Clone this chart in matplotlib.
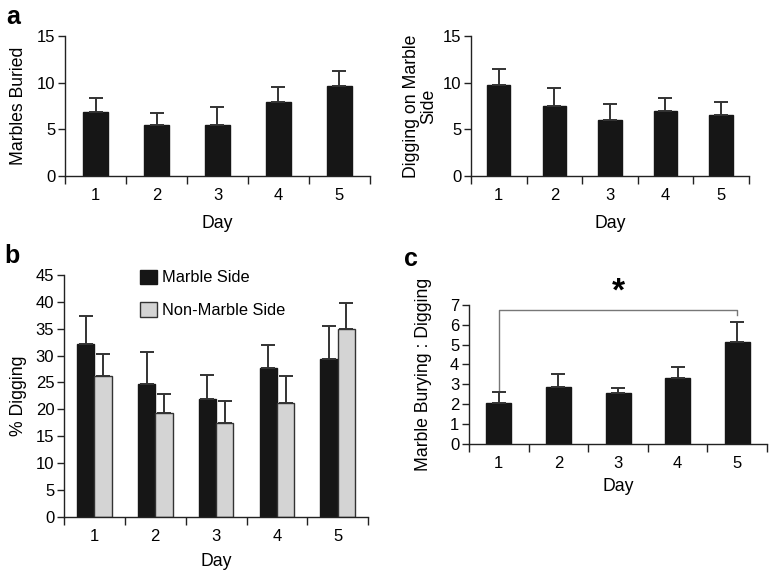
import matplotlib
matplotlib.use("Agg")
import matplotlib.pyplot as plt
import numpy as np

plt.rcParams['font.family'] = ['Liberation Sans', 'DejaVu Sans']

days = [1, 2, 3, 4, 5]
day_labels = ['1', '2', '3', '4', '5']

marbles_buried = [6.8, 5.45, 5.5, 7.9, 9.6]
marbles_buried_err = [1.6, 1.3, 1.9, 1.6, 1.65]

digging_marble = [9.75, 7.5, 6.0, 7.0, 6.5]
digging_marble_err = [1.75, 1.9, 1.7, 1.3, 1.4]

pct_marble_side = [32.2, 24.75, 21.9, 27.7, 29.3]
pct_marble_side_err = [5.2, 5.85, 4.5, 4.2, 6.2]
pct_nonmarble_side = [26.2, 19.25, 17.4, 21.1, 35.0]
pct_nonmarble_side_err = [4.1, 3.55, 4.1, 5.1, 4.7]

ratio = [2.06, 2.87, 2.55, 3.3, 5.15]
ratio_err = [0.54, 0.63, 0.29, 0.56, 0.99]

BLACK = '#161616'
GRAY = '#d4d4d4'
AX = '#222222'
TS = 12
LS = 12.7

fig = plt.figure(figsize=(7.74, 5.75), dpi=100)

def style(ax, ylim, yticks, ylabel, xpad, ypad):
    ax.set_xlim(0.5, 5.5)
    ax.set_ylim(*ylim)
    ax.set_yticks(yticks)
    ax.set_xticks(days)
    ax.set_xticklabels(day_labels)
    ax.set_xticks(np.arange(0.5, 6.0, 1.0), minor=True)
    ax.tick_params(axis='x', which='major', length=0, pad=9, labelsize=TS)
    ax.tick_params(axis='x', which='minor', length=6, width=1.0, color=AX, direction='out')
    ax.tick_params(axis='y', length=5, width=1.0, color=AX, labelsize=TS, pad=2)
    for s in ['top', 'right']:
        ax.spines[s].set_visible(False)
    for s in ['left', 'bottom']:
        ax.spines[s].set_color(AX)
        ax.spines[s].set_linewidth(1.0)
    ax.set_xlabel('Day', fontsize=LS, labelpad=xpad)
    ax.set_ylabel(ylabel, fontsize=LS, labelpad=ypad)

ekw = dict(ecolor='#333333', elinewidth=1.4, capsize=5, capthick=1.4)

# a-left
ax1 = fig.add_axes([0.084, 0.694, 0.394, 0.2435])
ax1.bar(days, marbles_buried, width=0.42, color=BLACK, edgecolor=BLACK,
        yerr=[np.zeros(5), marbles_buried_err], error_kw=ekw, zorder=2)
style(ax1, (0, 15), [0, 5, 10, 15], 'Marbles Buried', 8, 7)

# a-right
ax2 = fig.add_axes([0.6085, 0.694, 0.359, 0.2435])
ax2.bar(days, digging_marble, width=0.42, color=BLACK, edgecolor=BLACK,
        yerr=[np.zeros(5), digging_marble_err], error_kw=ekw, zorder=2)
style(ax2, (0, 15), [0, 5, 10, 15], 'Digging on Marble\nSide', 8, 4)
ax2.yaxis.label.set_linespacing(1.0)

# b
ax3 = fig.add_axes([0.0827, 0.1009, 0.393, 0.421])
x = np.array(days, dtype=float)
w = 0.285
ax3.bar(x - w / 2, pct_marble_side, width=w, color=BLACK, edgecolor=BLACK,
        yerr=[np.zeros(5), pct_marble_side_err], error_kw=ekw, zorder=2,
        label='Marble Side')
ax3.bar(x + w / 2, pct_nonmarble_side, width=w, color=GRAY, edgecolor='#333333',
        linewidth=1.0, yerr=[np.zeros(5), pct_nonmarble_side_err], error_kw=ekw,
        zorder=2, label='Non-Marble Side')
style(ax3, (0, 45), list(range(0, 50, 5)), '% Digging', 6, 6)
ax3.legend(loc='upper left', bbox_to_anchor=(0.25, 1.022), frameon=False,
           fontsize=11.8, handlelength=1.05, handleheight=0.95, labelspacing=1.05,
           handletextpad=0.3, borderpad=0, borderaxespad=0)

# c
ax4 = fig.add_axes([0.606, 0.228, 0.385, 0.2417])
ax4.bar(days, ratio, width=0.42, color=BLACK, edgecolor=BLACK,
        yerr=[np.zeros(5), ratio_err], error_kw=ekw, zorder=2)
style(ax4, (0, 7), list(range(0, 8)), 'Marble Burying : Digging', 5, 13)
top = 6.76
ax4.plot([1, 1, 5, 5], [ratio[0] + ratio_err[0], top, top, 6.5],
         color='#777777', lw=1.0, clip_on=False)
ax4.text(3, 6.85, '*', ha='center', va='bottom', fontsize=24, fontweight='bold')

# panel letters
fig.text(0.008, 0.992, 'a', fontsize=18, fontweight='bold', va='top')
fig.text(0.006, 0.575, 'b', fontsize=18, fontweight='bold', va='top')
fig.text(0.522, 0.57, 'c', fontsize=18, fontweight='bold', va='top')

fig.savefig('out.png', dpi=100)
